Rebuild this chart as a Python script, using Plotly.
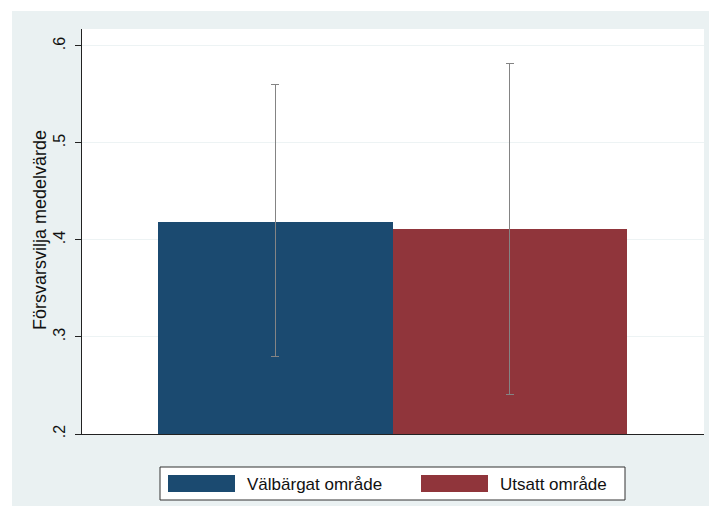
import plotly.graph_objects as go

# Data
categories = ["Välbärgat område", "Utsatt område"]
means = [0.419, 0.411]
ci_upper = [0.560, 0.582]
ci_lower = [0.280, 0.241]
colors = ["#1b4a70", "#90353b"]
y_tickvals = [0.2, 0.3, 0.4, 0.5, 0.6]
y_ticktext = [".2", ".3", ".4", ".5", ".6"]
y_title = "Försvarsvilja medelvärde"

W, H = 709, 515
L, R, T, B = 82, 5, 29, 81
PW, PH = W - L - R, H - T - B


def px(x):
    return (x - L) / PW


def py(y):
    return (H - B - y) / PH


FONT = "Liberation Sans, Arial, sans-serif"

fig = go.Figure()
for i, (cat, m, hi, lo, c) in enumerate(zip(categories, means, ci_upper, ci_lower, colors)):
    fig.add_trace(go.Bar(
        x=[i], y=[m - 0.2], base=0.2, width=1.0, name=cat,
        marker=dict(color=c, line=dict(width=0)),
        error_y=dict(type="data", symmetric=False, array=[hi - m], arrayminus=[m - lo],
                     color="#848484", thickness=1.3, width=4),
        showlegend=False,
    ))

shapes = [
    dict(type="rect", xref="paper", yref="paper", x0=px(12), x1=px(709), y0=py(506), y1=py(11),
         fillcolor="#eaf1f2", line=dict(width=0), layer="below"),
    dict(type="rect", xref="paper", yref="paper", x0=0, x1=1, y0=0, y1=1,
         fillcolor="white", line=dict(width=0), layer="below"),
    # legend box
    dict(type="rect", xref="paper", yref="paper", x0=px(160), x1=px(625), y0=py(500), y1=py(467),
         fillcolor="white", line=dict(color="#333333", width=1)),
    dict(type="rect", xref="paper", yref="paper", x0=px(168), x1=px(235), y0=py(492), y1=py(475),
         fillcolor=colors[0], line=dict(width=0)),
    dict(type="rect", xref="paper", yref="paper", x0=px(421), x1=px(488), y0=py(492), y1=py(475),
         fillcolor=colors[1], line=dict(width=0)),
]

annotations = [
    dict(text=categories[0], xref="paper", yref="paper", x=px(245), y=py(484), xanchor="left",
         yanchor="middle", showarrow=False, font=dict(family=FONT, size=17, color="#111")),
    dict(text=categories[1], xref="paper", yref="paper", x=px(498), y=py(484), xanchor="left",
         yanchor="middle", showarrow=False, font=dict(family=FONT, size=17, color="#111")),
    dict(text=y_title, xref="paper", yref="paper", x=px(40), y=py(230), xanchor="center",
         yanchor="middle", textangle=-90, showarrow=False, font=dict(family=FONT, size=18, color="#111")),
]

fig.update_layout(
    width=W, height=H,
    margin=dict(l=L, r=R, t=T, b=B, autoexpand=False),
    paper_bgcolor="white", plot_bgcolor="rgba(0,0,0,0)",
    barmode="overlay", bargap=0,
    shapes=shapes, annotations=annotations,
    font=dict(family=FONT, color="#111"),
    showlegend=False,
    xaxis=dict(range=[-0.824, 1.828], showticklabels=False, ticks="", showgrid=False,
               zeroline=False, showline=True, linecolor="#222", linewidth=1),
    yaxis=dict(range=[0.2, 0.6175], tickvals=y_tickvals, ticktext=y_ticktext, tickangle=-90,
               ticks="outside", ticklen=6, tickcolor="#222", showgrid=True, gridcolor="#edf3f4",
               gridwidth=1, zeroline=False, showline=True, linecolor="#222", linewidth=1,
               ticklabelstandoff=4,
               tickfont=dict(family=FONT, size=16, color="#111")),
)

fig.write_html("out.html", config={"displayModeBar": False},
               post_script="document.body.style.margin='0';document.body.style.overflow='hidden';")
